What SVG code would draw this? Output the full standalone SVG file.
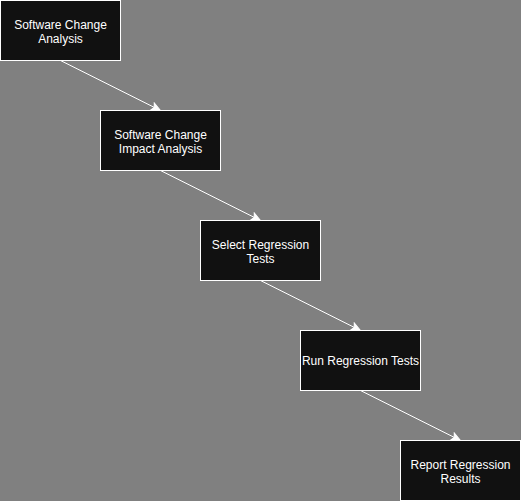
<svg xmlns="http://www.w3.org/2000/svg" width="521" height="501" viewBox="0 0 521 501">
<defs>
<marker id="arr" markerWidth="12" markerHeight="10" viewBox="-10 -5 12 10" refX="0" refY="0" orient="auto" markerUnits="userSpaceOnUse">
<path d="M0,0 L-9,-4 L-7,0 L-9,4 Z" fill="#ffffff" stroke="#ffffff" stroke-width="1"/>
</marker>
</defs>
<style>
.box{fill:#111111;stroke:#ffffff;stroke-width:1}
.lbl{fill:#ffffff;font-family:"Liberation Sans",Arial,sans-serif;font-size:12px;text-anchor:middle}
.edge{stroke:#ffffff;stroke-width:1;fill:none}
</style>
<rect x="0" y="0" width="521" height="501" fill="#808080"/>
<g id="connectors">
<path class="edge" d="M60.5,60.5 L160.5,110.5" marker-end="url(#arr)"/>
<path class="edge" d="M160.5,170.5 L260.5,220.5" marker-end="url(#arr)"/>
<path class="edge" d="M260.5,280.5 L360.5,330.5" marker-end="url(#arr)"/>
<path class="edge" d="M360.5,390.5 L460.5,440.5" marker-end="url(#arr)"/>
</g>
<g id="node1">
<rect class="box" x="0.5" y="0.5" width="120" height="60"/>
<text class="lbl" x="60.5" y="28.5">Software Change</text>
<text class="lbl" x="60.5" y="42.5">Analysis</text>
</g>
<g id="node2">
<rect class="box" x="100.5" y="110.5" width="120" height="60"/>
<text class="lbl" x="160.5" y="138.5">Software Change</text>
<text class="lbl" x="160.5" y="152.5">Impact Analysis</text>
</g>
<g id="node3">
<rect class="box" x="200.5" y="220.5" width="120" height="60"/>
<text class="lbl" x="260.5" y="248.5">Select Regression</text>
<text class="lbl" x="260.5" y="262.5">Tests</text>
</g>
<g id="node4">
<rect class="box" x="300.5" y="330.5" width="120" height="60"/>
<text class="lbl" x="360.5" y="365">Run Regression Tests</text>
</g>
<g id="node5">
<rect class="box" x="400.5" y="440.5" width="120" height="60"/>
<text class="lbl" x="460.5" y="468.5">Report Regression</text>
<text class="lbl" x="460.5" y="482.5">Results</text>
</g>
</svg>
